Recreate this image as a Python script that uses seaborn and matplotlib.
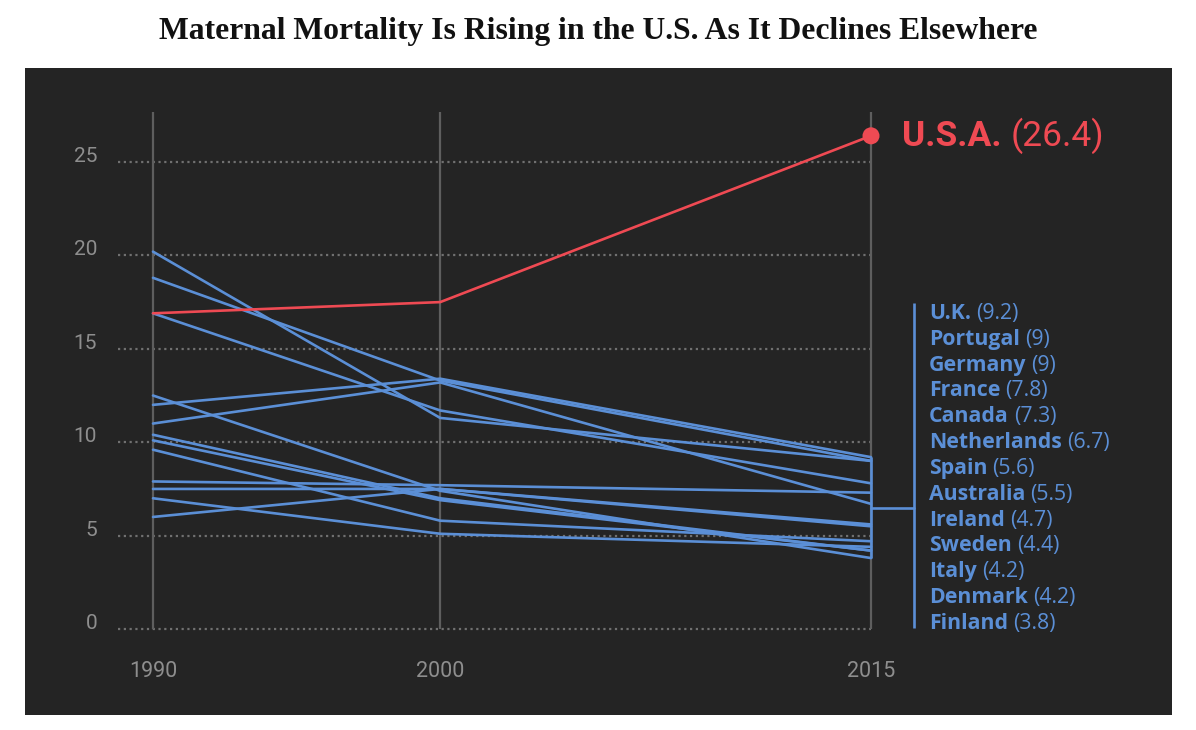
import matplotlib
matplotlib.use("Agg")
import matplotlib.pyplot as plt
import numpy as np
import pandas as pd
import seaborn as sns

# ---------------- data ----------------
years = [1990, 2000, 2015]
countries = ["U.S.A.", "U.K.", "Portugal", "Germany", "France", "Canada",
             "Netherlands", "Spain", "Australia", "Ireland", "Sweden",
             "Italy", "Denmark", "Finland"]
mmr_1990 = [16.9, 12.0, 20.2, 18.8, 16.9, 7.9, 11.0, 7.5, 6.0, 9.6, 7.0, 10.1, 10.4, 12.5]
mmr_2000 = [17.5, 13.4, 11.3, 13.3, 11.7, 7.7, 13.2, 7.5, 7.5, 5.8, 5.1, 6.9, 7.0, 7.4]
mmr_2015 = [26.4, 9.2, 9.0, 9.0, 7.8, 7.3, 6.7, 5.6, 5.5, 4.7, 4.4, 4.2, 4.2, 3.8]
y_ticks = [0, 5, 10, 15, 20, 25]
x_ticks = years
title = "Maternal Mortality Is Rising in the U.S. As It Declines Elsewhere"
highlight = "U.S.A."

# ---------------- style ----------------
RED = "#ef4a53"
BLUE = "#5b8fd6"
BG = "#242424"
GRID = "#5e5e5e"
DOT = "#707070"
TICK = "#8e8e8e"
SANS = ["Roboto", "DejaVu Sans"]
LABEL_FONT = ["Open Sans", "DejaVu Sans"]

sns.set_theme(style="dark")
plt.rcParams["font.family"] = SANS

rows = []
for c, a, b, d in zip(countries, mmr_1990, mmr_2000, mmr_2015):
    for yr, v in zip(years, [a, b, d]):
        rows.append({"country": c, "year": yr, "mmr": v})
df = pd.DataFrame(rows)

others = [c for c in countries if c != highlight]
hue_order = others + [highlight]
palette = {c: BLUE for c in others}
palette[highlight] = RED

fig = plt.figure(figsize=(11.96, 7.30), dpi=100)
fig.patch.set_facecolor("white")
ax = fig.add_axes([25 / 1196, 15 / 730, 1147 / 1196, 647 / 730])
ax.set_facecolor(BG)
ax.set_xlim(1985.543, 2025.48)
ax.set_ylim(-4.60, 30.03)
for s in ax.spines.values():
    s.set_visible(False)
ax.set_xticks([])
ax.set_yticks([])
ax.grid(False)

# gridlines
ax.hlines(y_ticks, 1988.78, 2015, colors=DOT, linewidth=1.6,
          linestyles=(0, (1, 1.6)), zorder=1)
ax.vlines(x_ticks, 0, 27.7, colors=GRID, linewidth=1.6, zorder=2)

# tick labels
for t in y_ticks:
    ax.text(1988.05, t, f"{t}", ha="right", va="baseline", color=TICK,
            fontsize=15, family=SANS, zorder=3)
for yr in x_ticks:
    ax.text(yr, -2.25, f"{yr}", ha="center", va="center", color=TICK,
            fontsize=15.5, family=SANS, zorder=3)

# lines
sns.lineplot(data=df, x="year", y="mmr", hue="country", hue_order=hue_order,
             palette=palette, estimator=None, legend=False, linewidth=1.9,
             ax=ax, zorder=4)
ax.set_xlabel("")
ax.set_ylabel("")
ax.set_xlim(1985.543, 2025.48)
ax.set_ylim(-4.60, 30.03)

us_idx = countries.index(highlight)
us_last = mmr_2015[us_idx]
sns.scatterplot(x=[years[-1]], y=[us_last], color=RED, s=150, edgecolor="none",
                ax=ax, zorder=5, legend=False)

# bracket for the other countries
ends = [v for c, v in zip(countries, mmr_2015) if c != highlight]
lo, hi = min(ends), max(ends)
mid = (lo + hi) / 2
xb = 2016.5
ax.plot([2015, 2015], [lo, hi], color=BLUE, lw=1.9, zorder=4, solid_capstyle="butt")
ax.plot([2015, xb], [mid, mid], color=BLUE, lw=1.9, zorder=4)
ax.plot([xb, xb], [0.05, 17.45], color=BLUE, lw=1.9, zorder=4, solid_capstyle="butt")

fig.canvas.draw()
renderer = fig.canvas.get_renderer()


def two_part(x, y, bold, normal, color, size, family, gap_px=5):
    t1 = ax.text(x, y, bold, ha="left", va="baseline", color=color,
                 fontsize=size, fontweight="bold", family=family, zorder=6)
    bb = t1.get_window_extent(renderer=renderer)
    xd = ax.transData.inverted().transform((bb.x1 + gap_px, 0))[0]
    ax.text(xd, y, normal, ha="left", va="baseline", color=color,
            fontsize=size, fontweight="normal", family=family, zorder=6)


# U.S.A. label
two_part(2016.08, 26.55 - 0.68, highlight, f"({us_last:g})", RED, 25.5, SANS, gap_px=9)

# country labels
label_y = np.linspace(17.02, 0.43, len(others))
for c, yy in zip(others, label_y):
    v = mmr_2015[countries.index(c)]
    two_part(2017.02, yy - 0.42, c, f"({v:g})", BLUE, 15.3, LABEL_FONT, gap_px=5)

fig.text(0.5, 1 - 31 / 730, title, ha="center", va="center",
         fontsize=22.8, fontweight="bold", family=["Liberation Serif", "DejaVu Serif"],
         color="#111111")

fig.savefig("out.png", dpi=100, facecolor="white")
